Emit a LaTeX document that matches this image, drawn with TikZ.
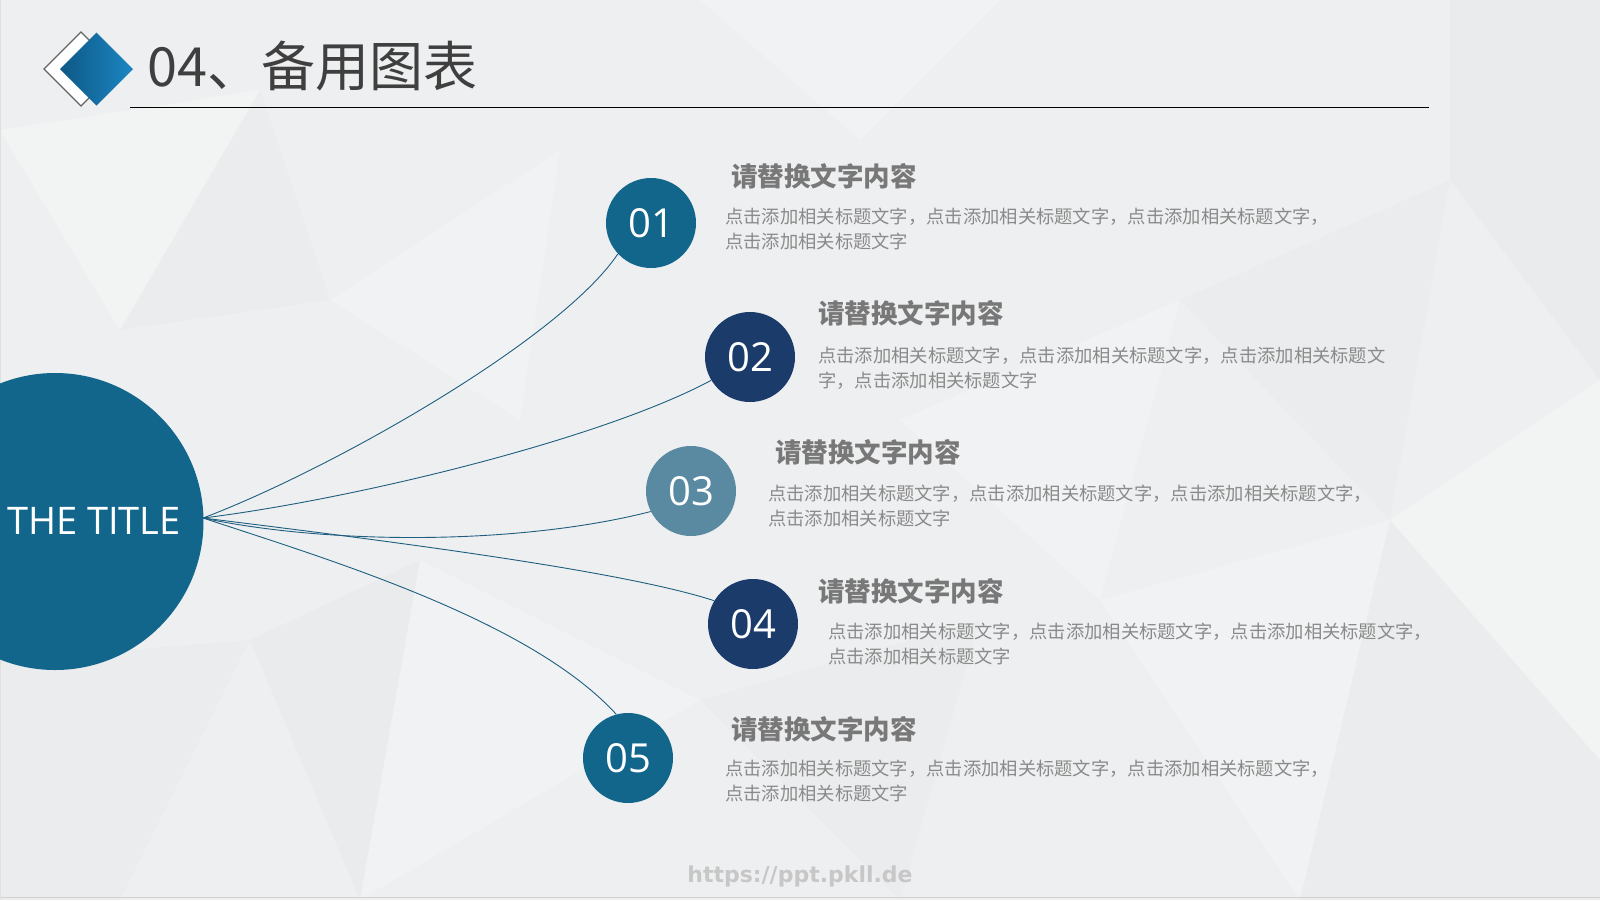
\documentclass[tikz,border=0pt]{standalone}
\usepackage{fontspec}
\setmainfont{Open Sans}
\newfontfamily\cjk{Noto Sans CJK SC}
\newfontfamily\wmfont{DejaVu Sans}
\definecolor{bgc}{HTML}{EEEFF0}
\definecolor{teal}{HTML}{12668B}
\definecolor{navy}{HTML}{1B3B6B}
\definecolor{slate}{HTML}{5A8AA2}
\definecolor{linec}{HTML}{1E5E80}
\definecolor{headc}{HTML}{787878}
\definecolor{bodyc}{HTML}{8A8A8A}
\definecolor{titlec}{HTML}{3F3F3F}
\definecolor{dmA}{HTML}{0D5886}
\definecolor{dmB}{HTML}{1C86C2}
\tikzset{
  facet/.style={fill=#1, draw=none},
  numdot/.style={circle, minimum size=90pt, inner sep=0, fill=#1, text=white,
     font=\fontsize{40}{40}\selectfont},
  conn/.style={draw=linec, line width=0.9pt},
  headtxt/.style={anchor=west, inner sep=0, text=headc, font=\cjk\bfseries\fontsize{26.5}{30}\selectfont},
  bodytxt/.style={anchor=north west, inner sep=0, align=left, text=bodyc, font=\cjk\fontsize{18.3}{25.5}\selectfont}
}
\begin{document}
\begin{tikzpicture}[x=1pt,y=-1pt]
\useasboundingbox (0,0) rectangle (1600,900);
% background
\fill[bgc] (0,0) rectangle (1600,900);
\fill[facet=white, opacity=0.25] (0,130) -- (260,90) -- (120,330) -- cycle;
\fill[facet=black, opacity=0.012] (120,330) -- (260,90) -- (330,300) -- cycle;
\fill[facet=white, opacity=0.2] (330,300) -- (560,150) -- (520,420) -- cycle;
\fill[facet=black, opacity=0.015] (250,640) -- (420,560) -- (360,900) -- cycle;
\fill[facet=white, opacity=0.22] (420,560) -- (700,700) -- (360,900) -- cycle;
\fill[facet=black, opacity=0.01] (700,700) -- (980,620) -- (900,900) -- cycle;
\fill[facet=white, opacity=0.22] (900,420) -- (1180,300) -- (1100,600) -- cycle;
\fill[facet=black, opacity=0.012] (1180,300) -- (1450,180) -- (1390,520) -- cycle;
\fill[facet=white, opacity=0.25] (1390,520) -- (1600,380) -- (1600,760) -- cycle;
\fill[facet=black, opacity=0.015] (1450,0) -- (1600,0) -- (1600,380) -- (1450,180) -- cycle;
\fill[facet=white, opacity=0.2] (1100,600) -- (1390,520) -- (1300,900) -- cycle;
\fill[facet=black, opacity=0.01] (1300,900) -- (1390,520) -- (1600,760) -- (1600,900) -- cycle;
\fill[facet=black, opacity=0.01] (0,660) -- (250,640) -- (120,900) -- (0,900) -- cycle;
\fill[facet=white, opacity=0.2] (700,0) -- (1000,0) -- (860,140) -- cycle;
\draw[black!18, line width=1pt] (0,897.5) -- (1600,897.5);
\draw[black!12, line width=1pt] (0.5,0) -- (0.5,900);
% logo
\filldraw[fill=white, draw=titlec!80, line width=1.2pt] (44,69) -- (81,32) -- (118,69) -- (81,106) -- cycle;
\shade[left color=dmA, right color=dmB] (60,69) -- (96.5,32.5) -- (133,69) -- (96.5,105.5) -- cycle;
\node[anchor=west, inner sep=0, text=titlec, font=\cjk\fontsize{54}{60}\selectfont] (title) at (147,66.5) {04、备用图表};
\draw[black, line width=1.2pt] (130,107.5) -- (1429,107.5);
% main circle
\node[circle, minimum size=297pt, inner sep=0, fill=teal] (main) at (55,521.5) {};
\node[inner sep=0, text=white, font=\fontsize{38}{40}\selectfont] (maintxt) at (94,521) {THE TITLE};
\coordinate (o) at (203,518);
% numbered circles
\node[numdot=teal]  (c1) at (651,223) {01};
\node[numdot=navy]  (c2) at (750,357) {02};
\node[numdot=slate] (c3) at (691,491) {03};
\node[numdot=navy]  (c4) at (753,624) {04};
\node[numdot=teal]  (c5) at (628,758) {05};
% connectors
\draw[conn] (o) .. controls (330,470) and (560,340) .. (c1.223);
\draw[conn] (o) .. controls (350,500) and (600,440) .. (c2.211);
\draw[conn] (o) .. controls (330,545) and (520,545) .. (c3.207);
\draw[conn] (o) .. controls (380,540) and (620,570) .. (c4.149);
\draw[conn] (o) .. controls (330,560) and (530,620) .. (c5.105);
% texts
\node[headtxt] (h1) at (731,176) {请替换文字内容};
\node[bodytxt] (b1) at (725,207.5) {点击添加相关标题文字，点击添加相关标题文字，点击添加相关标题文字，\\点击添加相关标题文字};
\node[headtxt] (h2) at (818,313) {请替换文字内容};
\node[bodytxt] (b2) at (818,346.5) {点击添加相关标题文字，点击添加相关标题文字，点击添加相关标题文\\字，点击添加相关标题文字};
\node[headtxt] (h3) at (775,452) {请替换文字内容};
\node[bodytxt] (b3) at (768,484.5) {点击添加相关标题文字，点击添加相关标题文字，点击添加相关标题文字，\\点击添加相关标题文字};
\node[headtxt] (h4) at (818,591) {请替换文字内容};
\node[bodytxt] (b4) at (828,622.5) {点击添加相关标题文字，点击添加相关标题文字，点击添加相关标题文字，\\点击添加相关标题文字};
\node[headtxt] (h5) at (731,729) {请替换文字内容};
\node[bodytxt] (b5) at (725,759.5) {点击添加相关标题文字，点击添加相关标题文字，点击添加相关标题文字，\\点击添加相关标题文字};
% watermark
\node[inner sep=0, text=black!22, font=\wmfont\bfseries\fontsize{22}{24}\selectfont] (wm) at (800,876) {https://ppt.pkll.de};
\end{tikzpicture}
\end{document}
